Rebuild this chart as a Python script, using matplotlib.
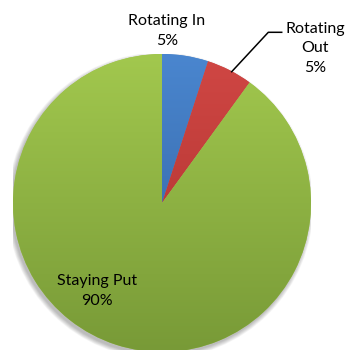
import numpy as np
import matplotlib.pyplot as plt
from matplotlib.patches import Circle
from matplotlib.colors import LinearSegmentedColormap

# slices, clockwise from 12 o'clock
labels = ['Rotating In', 'Rotating Out', 'Staying Put']
shares = [5, 5, 90]
top_colors = ['#4a86cf', '#d04744', '#a2c84e']
bottom_colors = ['#2f5f9c', '#a92f2c', '#789a37']

plt.rcParams['font.family'] = ['Lato', 'DejaVu Sans']

W, H = 346, 350
fig = plt.figure(figsize=(W / 100, H / 100), dpi=100)

# pie centre (162, 203) px, radius 149 px
cx, cy, r = 162, 203, 149
ax = fig.add_axes([(cx - r) / W, (H - cy - r) / H, 2 * r / W, 2 * r / H])
ax.set_xlim(-1, 1)
ax.set_ylim(-1, 1)
ax.set_aspect('equal')
ax.axis('off')

# soft drop shadow toward the lower left
for i in range(8):
    ax.add_patch(Circle((-0.012, -0.018), 1.0 + 0.004 * i, color='k',
                        alpha=0.035, lw=0, zorder=0))

wedges, _ = ax.pie(shares, radius=1, startangle=90, counterclock=False,
                   colors=top_colors, wedgeprops=dict(lw=0))

# vertical gradient inside each wedge
for w, c1, c2 in zip(wedges, top_colors, bottom_colors):
    cmap = LinearSegmentedColormap.from_list('g', [c2, c1])
    grad = np.linspace(0, 1, 256).reshape(-1, 1)
    im = ax.imshow(grad, cmap=cmap, extent=[-1, 1, -1, 1], origin='lower',
                   aspect='auto', zorder=2, interpolation='bicubic')
    im.set_clip_path(w)
ax.set_xlim(-1, 1)
ax.set_ylim(-1, 1)


def px(x, y):
    return x / W, 1 - y / H


fs = 11.5
ls = 1.5
fig.text(*px(167, 31), 'Rotating In\n5%', ha='center', va='center',
         fontsize=fs, linespacing=ls)
fig.text(*px(315, 48), 'Rotating\nOut\n5%', ha='center', va='center',
         fontsize=fs, linespacing=ls)
fig.text(*px(97, 291), 'Staying Put\n90%', ha='center', va='center',
         fontsize=fs, linespacing=ls)

# leader line for the small red slice
lx = [231.7, 268.3, 281.7]
ly = [71.7, 32.3, 32.3]
fig.add_artist(plt.Line2D([x / W for x in lx], [1 - y / H for y in ly],
                          color='black', lw=1.1))

fig.savefig('out.png', dpi=100)
